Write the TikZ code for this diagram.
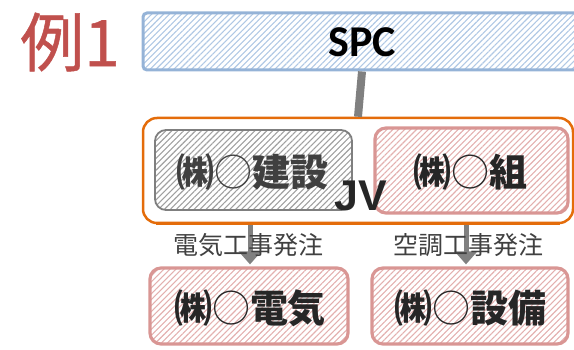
\documentclass[tikz,border=0pt]{standalone}
\usepackage{fontspec}
\usetikzlibrary{arrows.meta,patterns.meta}
\newfontfamily\jpfont{Noto Sans CJK JP}
\newfontfamily\jptitle[FakeBold=0.8]{Noto Sans CJK JP}
\newfontfamily\calfont{Carlito}
\newfontfamily\arfont{Liberation Sans}
\definecolor{exred}{HTML}{C0504D}
\definecolor{spcline}{HTML}{95B3D7}
\definecolor{spchatch}{HTML}{B0C8E4}
\definecolor{grayline}{HTML}{7F7F7F}
\definecolor{grayhatch}{HTML}{A0A0A0}
\definecolor{pinkline}{HTML}{D99694}
\definecolor{pinkhatch}{HTML}{E3B0AF}
\definecolor{jvorange}{HTML}{E46C0A}
\definecolor{conngray}{HTML}{808080}
\definecolor{txtdark}{HTML}{262626}
\definecolor{txtgray}{HTML}{404040}
\tikzset{
  hatchbox/.style={rectangle, inner sep=0pt, rounded corners=11pt,
    pattern={Lines[angle=45,distance=4.2pt,line width=1.1pt]}},
  spcbox/.style={hatchbox, rounded corners=4pt, draw=spcline, line width=3pt,
    pattern color=spchatch},
  graybox/.style={hatchbox, draw=grayline, line width=1.8pt, pattern color=grayhatch},
  pinkbox/.style={hatchbox, draw=pinkline, line width=3.2pt, pattern color=pinkhatch},
  jvbox/.style={rectangle, inner sep=0pt, rounded corners=14pt, draw=jvorange, line width=2.5pt},
  conn/.style={draw=conngray, line width=8pt},
  arr/.style={draw=conngray, line width=5pt, -{Triangle[width=22pt,length=13pt]}},
  boxtext/.style={font=\jpfont\fontsize{38}{38}\selectfont},
  labeltext/.style={font=\jpfont\fontsize{25}{25}\selectfont, text=txtgray, inner sep=0pt}
}
\begin{document}
\begin{tikzpicture}[x=1pt,y=-1pt]
\useasboundingbox (0,0) rectangle (574,350);
\clip (0,0) rectangle (574,350);

% title
\node[font=\jptitle\fontsize{64}{64}\selectfont, text=exred, inner sep=0pt] (title) at (70,42) {例1};

% SPC
\node[spcbox, minimum width=438pt, minimum height=57pt] (spc) at (362,41.5) {};
\node[font=\calfont\bfseries\fontsize{44}{44}\selectfont, text=black, inner sep=0pt] (spclabel) at (362,42) {SPC};

% lower boxes
\node[pinkbox, minimum width=198pt, minimum height=76pt] (den) at (249,306) {};
\node[pinkbox, minimum width=196pt, minimum height=76pt] (set) at (470,306) {};

% JV frame and order arrows
\node[jvbox, minimum width=430pt, minimum height=105pt] (jv) at (358,170.5) {};
\draw[arr] ([xshift=1pt]jv.south -| den.north) -- ([xshift=1pt,yshift=2pt]den.north);
\draw[arr] ([xshift=-4pt]jv.south -| set.north) -- ([xshift=-4pt,yshift=2pt]set.north);
\draw[draw=jvorange, line width=2.5pt] ([xshift=14pt]jv.south west) -- ([xshift=-14pt]jv.south east);

% SPC connector
\draw[conn] (spc.south) -- (jv.north);

% member boxes
\node[graybox, minimum width=197pt, minimum height=80pt] (ken) at (253.5,170) {};
\node[boxtext, text=txtgray] (kentext) at (252,172) {\textbf{㈱}○\textbf{建設}};
\node[pinkbox, minimum width=193pt, minimum height=85pt] (kumi) at (471.5,170.5) {};
\node[boxtext, text=txtdark] (kumitext) at (470,172) {\textbf{㈱}○\textbf{組}};

% lower box texts
\node[boxtext, text=txtdark] (dentext) at (250,308) {\textbf{㈱}○\textbf{電気}};
\node[boxtext, text=txtdark] (settext) at (470,308) {\textbf{㈱}○\textbf{設備}};

% labels
\node[labeltext] (lab1) at (248,245) {電気工事発注};
\node[labeltext] (lab2) at (468,245) {空調工事発注};

% JV label
\node[font=\arfont\bfseries\fontsize{43}{43}\selectfont, text=txtdark, inner sep=0pt] (jvlabel) at (361,196) {JV};
\end{tikzpicture}
\end{document}
